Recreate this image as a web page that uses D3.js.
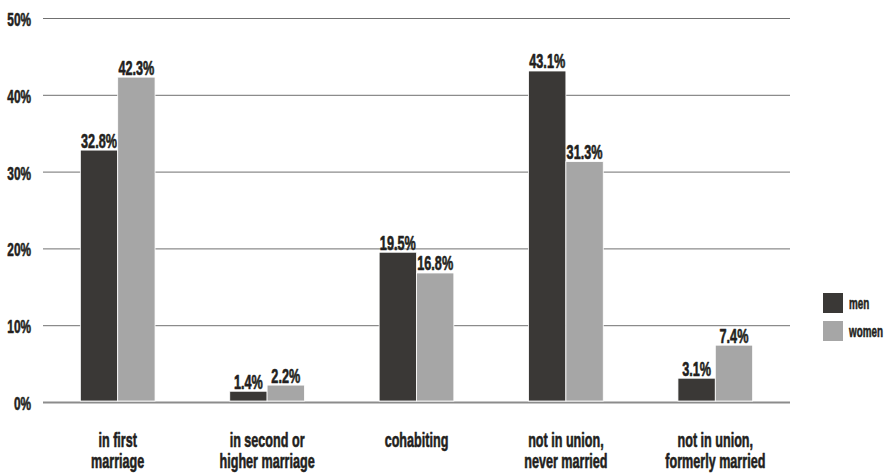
<!DOCTYPE html>
<html>
<head>
<meta charset="utf-8">
<script src="https://cdn.jsdelivr.net/npm/d3@7"></script>
<style>
  html, body { margin: 0; padding: 0; background: #fff; }
  svg text {
    font-family: "Liberation Sans", Arial, sans-serif; font-weight: bold;
    fill: #231f20; stroke: #231f20; stroke-width: 0.6px; stroke-linejoin: round;
  }
</style>
</head>
<body>
<svg id="chart" width="890" height="473"></svg>
<script>
// Union status by sex, share of population (%)
const categories = [
  ["in first", "marriage"],
  ["in second or", "higher marriage"],
  ["cohabiting"],
  ["not in union,", "never married"],
  ["not in union,", "formerly married"]
];
const seriesNames = ["men", "women"];
const menValues = [32.8, 1.4, 19.5, 43.1, 3.1];
const womenValues = [42.3, 2.2, 16.8, 31.3, 7.4];
const yTicks = [0, 10, 20, 30, 40, 50];
const colors = ["#3a3836", "#a6a6a6"];

// horizontal squeeze giving a condensed face
const place = (px, py, sx) => `translate(${px},${py}) scale(${sx},1)`;

const svg = d3.select("#chart");
const margin = { left: 43, right: 100, top: 18, bottom: 71 };
const W = 890, H = 473;

const x0 = d3.scaleBand()
  .domain(d3.range(categories.length))
  .range([margin.left, W - margin.right])
  .paddingInner(0.5)
  .paddingOuter(0.25);
const x1 = d3.scaleBand()
  .domain(seriesNames)
  .range([0, x0.bandwidth()]);
const y = d3.scaleLinear()
  .domain([0, 50])
  .range([H - margin.bottom, margin.top]);

// gridlines
const yAxis = d3.axisLeft(y)
  .tickValues(yTicks)
  .tickSize(-(W - margin.right - margin.left))
  .tickFormat(d => d + "%");
const gy = svg.append("g")
  .attr("transform", `translate(${margin.left},0)`)
  .call(yAxis);
gy.select(".domain").remove();
gy.selectAll(".tick line")
  .attr("stroke", d => d === 0 ? "#8c8c8c" : "#707070")
  .attr("stroke-width", d => d === 0 ? 2 : 1);
gy.selectAll(".tick text")
  .attr("x", null).attr("dy", null)
  .attr("transform", place(-12, 7.5, 0.64))
  .attr("text-anchor", "end")
  .style("font-size", "18.5px");

// bars
const rows = categories.map((c, i) => ({ i, values: [menValues[i], womenValues[i]] }));
const groups = svg.append("g").selectAll("g")
  .data(rows)
  .join("g")
  .attr("transform", d => `translate(${x0(d.i)},0)`);

const bars = groups.selectAll("g.bar")
  .data(d => d.values.map((v, k) => ({ key: seriesNames[k], v, k })))
  .join("g").attr("class", "bar");

bars.append("rect")
  .attr("x", d => x1(d.key))
  .attr("width", x1.bandwidth())
  .attr("y", d => y(d.v))
  .attr("height", d => y(0) - y(d.v) - 1)
  .attr("fill", d => colors[d.k])
  .attr("stroke", "#fff")
  .attr("stroke-width", 0.8);

bars.append("text")
  .attr("transform", d => place(x1(d.key) + x1.bandwidth() / 2, y(d.v) - 2.5, 0.65))
  .attr("text-anchor", "middle")
  .style("font-size", "19.5px")
  .text(d => d.v.toFixed(1) + "%");

// category labels, one text per line
const labelGroups = svg.append("g").selectAll("g")
  .data(categories)
  .join("g");
labelGroups.selectAll("text")
  .data((d, i) => d.map((line, j) => ({ line, i, j })))
  .join("text")
  .attr("transform", d => place(x0(d.i) + x0.bandwidth() / 2, 447 + d.j * 20.5, 0.63))
  .attr("text-anchor", "middle")
  .style("font-size", "20px")
  .text(d => d.line);

// legend
const legend = svg.append("g").attr("transform", "translate(823,293)");
const items = legend.selectAll("g")
  .data(seriesNames)
  .join("g")
  .attr("transform", (d, i) => `translate(0,${i * 28})`);
items.append("rect")
  .attr("width", 20).attr("height", 20)
  .attr("fill", (d, i) => colors[i]);
items.append("text")
  .attr("transform", place(26, 16, 0.58))
  .style("font-size", "17px")
  .text(d => d);
</script>
</body>
</html>
